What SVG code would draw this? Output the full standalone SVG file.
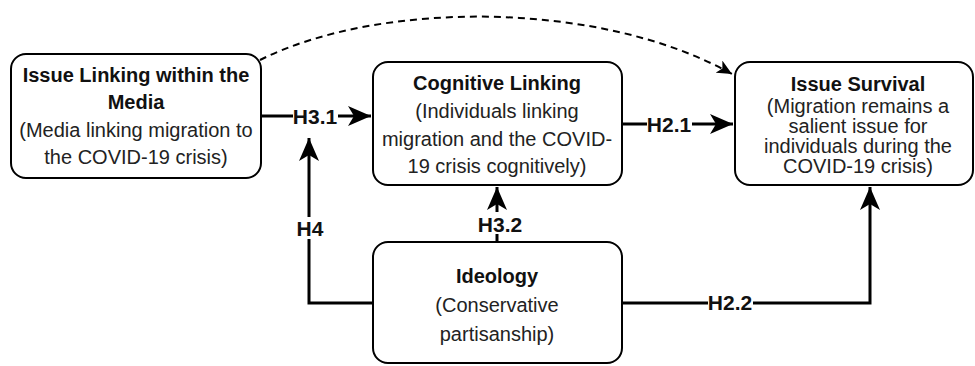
<svg xmlns="http://www.w3.org/2000/svg" width="975" height="366" viewBox="0 0 975 366">
<style>
.box{fill:#fff;stroke:#000;stroke-width:2}
.t{font-family:"Liberation Sans",Arial,sans-serif;font-size:20px;fill:#222;text-anchor:middle}
.b{font-weight:bold;fill:#111}
.lbl{font-family:"Liberation Sans",Arial,sans-serif;font-size:21px;font-weight:bold;fill:#111;text-anchor:middle}
.bg{fill:#fff;stroke:none}
.c{fill:none;stroke:#000;stroke-width:3}
.d{fill:none;stroke:#000;stroke-width:2;stroke-dasharray:7 5}
</style>
<defs>
<marker id="ah" markerUnits="userSpaceOnUse" markerWidth="24" markerHeight="22" refX="23" refY="11" orient="auto">
<path d="M0,1 L23,11 L0,21 L6,11 Z" fill="#000"/>
</marker>
<marker id="ahs" markerUnits="userSpaceOnUse" markerWidth="16" markerHeight="14" refX="15" refY="7" orient="auto">
<path d="M0,0 L15,7 L0,14 L4,7 Z" fill="#000"/>
</marker>
</defs>
<g id="connectors">
<path class="d" d="M260,60 C380,0 600,0 732,74" marker-end="url(#ahs)"/>
<path class="c" d="M261,116 L371,116" marker-end="url(#ah)"/>
<path class="c" d="M622,124 L733,124" marker-end="url(#ah)"/>
<path class="c" d="M373,303 L309,303 L309,138" marker-end="url(#ah)"/>
<path class="c" d="M497,242 L497,187" marker-end="url(#ah)"/>
<path class="c" d="M622,303 L870,303 L870,187" marker-end="url(#ah)"/>
<rect class="bg" x="293" y="106" width="45" height="21"/>
<text class="lbl" x="315" y="123.5">H3.1</text>
<rect class="bg" x="647" y="114" width="45" height="21"/>
<text class="lbl" x="669" y="131.5">H2.1</text>
<rect class="bg" x="298" y="217" width="24" height="22"/>
<text class="lbl" x="310" y="235.5">H4</text>
<rect class="bg" x="478" y="212" width="45" height="22"/>
<text class="lbl" x="500" y="231.5">H3.2</text>
<rect class="bg" x="708" y="292" width="45" height="21"/>
<text class="lbl" x="730" y="310">H2.2</text>
</g>
<g id="media">
<rect class="box" x="11" y="54" width="250" height="124" rx="15"/>
<text class="t b" x="136" y="82">Issue Linking within the</text>
<text class="t b" x="136" y="109">Media</text>
<text class="t" x="136" y="137">(Media linking migration to</text>
<text class="t" x="136" y="164">the COVID-19 crisis)</text>
</g>
<g id="cognitive">
<rect class="box" x="373" y="62" width="249" height="123" rx="15"/>
<text class="t b" x="497" y="90">Cognitive Linking</text>
<text class="t" x="497" y="118">(Individuals linking</text>
<text class="t" x="497" y="146">migration and the COVID-</text>
<text class="t" x="497" y="173">19 crisis cognitively)</text>
</g>
<g id="survival">
<rect class="box" x="735" y="62" width="238" height="123" rx="15"/>
<text class="t b" x="858" y="91">Issue Survival</text>
<text class="t" x="858" y="113">(Migration remains a</text>
<text class="t" x="858" y="133">salient issue for</text>
<text class="t" x="858" y="153">individuals during the</text>
<text class="t" x="858" y="173">COVID-19 crisis)</text>
</g>
<g id="ideology">
<rect class="box" x="373" y="242" width="249" height="121" rx="15"/>
<text class="t b" x="497" y="283">Ideology</text>
<text class="t" x="497" y="312">(Conservative</text>
<text class="t" x="497" y="341">partisanship)</text>
</g>
</svg>
